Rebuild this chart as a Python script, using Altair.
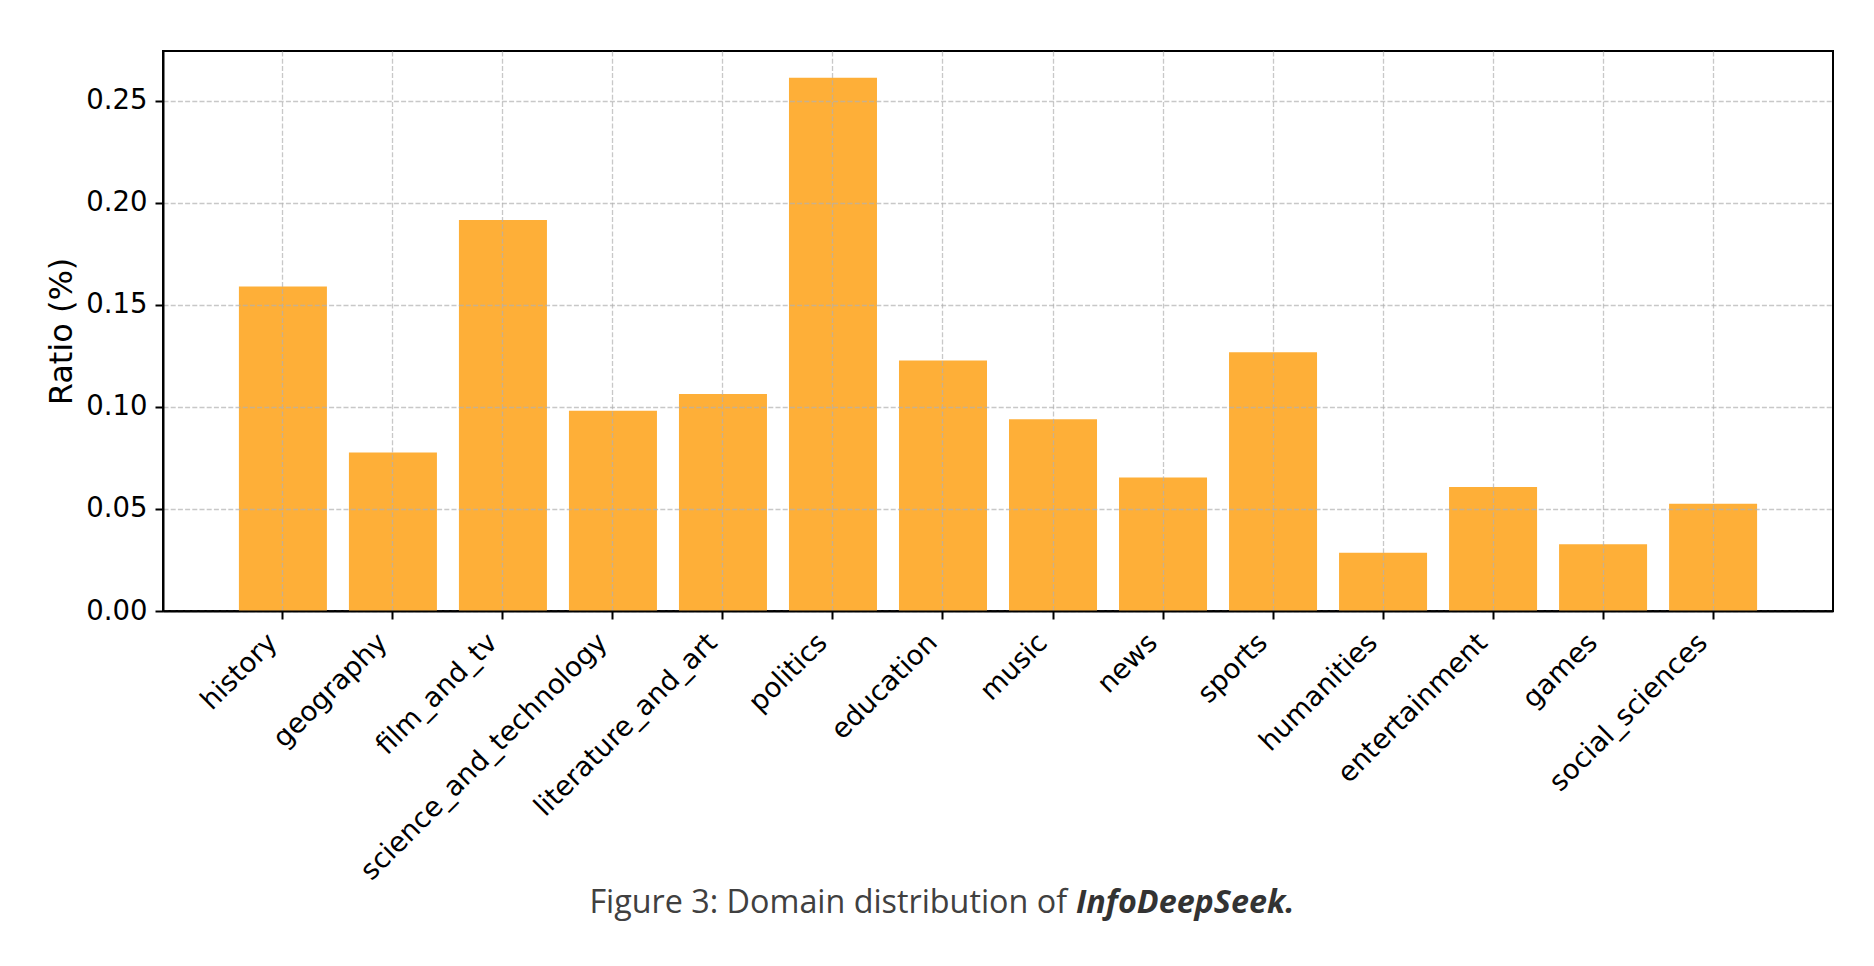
import altair as alt
import pandas as pd

categories = ["history", "geography", "film_and_tv", "science_and_technology",
              "literature_and_art", "politics", "education", "music", "news",
              "sports", "humanities", "entertainment", "games", "social_sciences"]
ratios = [0.159, 0.0777, 0.1916, 0.0981, 0.1063, 0.2613, 0.1227, 0.094,
          0.0654, 0.1268, 0.0286, 0.0607, 0.0327, 0.0526]
y_ticks = [0.0, 0.05, 0.10, 0.15, 0.20, 0.25]
y_title = "Ratio (%)"
caption_regular = "Figure 3: Domain distribution of"
caption_bold = "InfoDeepSeek."

df = pd.DataFrame({"domain": categories, "ratio": ratios})

W, H = 1670, 560

bars = alt.Chart(df).mark_bar(color="#FEAF38").encode(
    x=alt.X("domain:N", sort=categories,
            scale=alt.Scale(paddingInner=0.2, paddingOuter=0.69),
            axis=alt.Axis(title=None, labelAngle=315, labelAlign="right",
                          labelBaseline="bottom", labelPadding=29, labelLimit=0,
                          labelOverlap=False,
                          bandPosition=0.5, grid=True, zindex=1,
                          gridDash=[5, 2.2], gridColor="#b0b0b0", gridOpacity=0.7,
                          gridWidth=1.3, tickSize=8, tickWidth=2, tickColor="black",
                          domainColor="black", domainWidth=2,
                          labelFontSize=27.5, labelColor="black", labelFont="DejaVu Sans")),
    y=alt.Y("ratio:Q",
            scale=alt.Scale(domain=[0, 0.2744], nice=False, zero=True),
            axis=alt.Axis(values=y_ticks, format=".2f", title=y_title, zindex=1,
                          titleFontSize=32, titleFont="DejaVu Sans", titleColor="black",
                          titleFontWeight="normal", titleAngle=270, titleX=-102, titleY=H / 2,
                          titleAlign="center", titleBaseline="middle",
                          grid=True, gridDash=[5, 2.2], gridColor="#b0b0b0", gridOpacity=0.7,
                          gridWidth=1.3, tickSize=8, tickWidth=2, tickColor="black",
                          domainColor="black", domainWidth=2, labelPadding=8,
                          labelFontSize=27.5, labelColor="black", labelFont="DejaVu Sans")),
)

cap1 = alt.Chart(alt.Data(values=[{"t": caption_regular}])).mark_text(
    font="Open Sans", fontSize=32.3, color="#404040", align="right", baseline="alphabetic"
).encode(x=alt.value(904), y=alt.value(862), text="t:N")

cap2 = alt.Chart(alt.Data(values=[{"t": caption_bold}])).mark_text(
    font="Open Sans", fontSize=32.3, fontStyle="italic", fontWeight="bold",
    color="#333333", align="left", baseline="alphabetic"
).encode(x=alt.value(913), y=alt.value(862), text="t:N")

chart = alt.layer(bars, cap1, cap2).properties(
    width=W, height=H,
    autosize=alt.AutoSizeParams(type="none"),
    padding={"left": 155, "top": 43, "right": 20, "bottom": 330},
).configure_view(stroke="black", strokeWidth=2)

chart.save("out.html", embed_options={"renderer": "svg", "actions": False})
